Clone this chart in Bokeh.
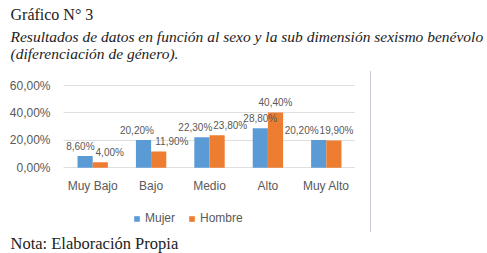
from bokeh.plotting import figure
from bokeh.models import ColumnDataSource, Legend, LegendItem, FactorRange, Range1d, Title, InlineStyleSheet
from bokeh.transform import dodge
from bokeh.core.properties import value
from bokeh.embed import file_html
from bokeh.resources import INLINE

# ---- data ----
categories = ["Muy Bajo", "Bajo", "Medio", "Alto", "Muy Alto"]
mujer = [8.6, 20.2, 22.3, 28.8, 20.2]
hombre = [4.0, 11.9, 23.8, 40.4, 19.9]
y_ticks = [0, 20, 40, 60]
y_tick_labels = ["0,00%", "20,00%", "40,00%", "60,00%"]
series_names = ["Mujer", "Hombre"]
title_text = "Gráfico N° 3"
subtitle_1 = "Resultados de datos en función al sexo y la sub dimensión sexismo benévolo"
subtitle_2 = "(diferenciación de género)."
note_text = "Nota: Elaboración Propia"


def fmt(v):
    return f"{v:.2f}".replace(".", ",") + "%"


BLUE = "#5B9BD5"
ORANGE = "#ED7D31"
GRAY = "#595959"
INK = "#222222"
SANS = "Liberation Sans"
SERIF = "Liberation Serif"

# ---- layout geometry (pixels) ----
FRAME_TOP, FRAME_BOTTOM = 84, 231
FRAME_W = 292.0
ZERO_PX, SIXTY_PX = 167.3, 85.0
PPU = (ZERO_PX - SIXTY_PX) / 60.0          # pixels per percentage unit
Y_START = -(FRAME_BOTTOM - ZERO_PX) / PPU
Y_END = (ZERO_PX - FRAME_TOP) / PPU
XAXIS_PX = 192.0
XAXIS_Y = -(XAXIS_PX - ZERO_PX) / PPU
CAT_PX = FRAME_W / len(categories)
BAR_W = 0.26
LABEL_FS = 10


# ---- data-label placement: push apart labels that would collide (like Excel) ----
def text_w(s):
    widths = {",": 0.278, "%": 0.889}
    return sum(widths.get(ch, 0.556) for ch in s) * LABEL_FS


m_off, h_off = [], []
for i, (vm, vh) in enumerate(zip(mujer, hombre)):
    lm, lh = fmt(vm), fmt(vh)
    half_bar = BAR_W / 2 * CAT_PX
    m_right = -half_bar + text_w(lm) / 2
    h_left = half_bar - text_w(lh) / 2
    overlap = m_right - h_left + 1
    mo, ho = 0.0, 0.0
    if abs(vm - vh) * PPU < 13 and overlap > 0:
        mo, ho = -overlap / 3.0, overlap * 2.0 / 3.0
    # keep the label inside the plotting frame
    h_right = (i + 0.5) * CAT_PX + half_bar + ho + text_w(lh) / 2
    excess = h_right - (FRAME_W - 2)
    if excess > 0:
        ho -= excess
        mo -= excess
    m_off.append(mo)
    h_off.append(ho)

src = ColumnDataSource(dict(
    cat=categories, mujer=mujer, hombre=hombre,
    ml=[fmt(v) for v in mujer], hl=[fmt(v) for v in hombre],
    mo=m_off, ho=h_off,
))

border_css = InlineStyleSheet(css="""
:host::after { content: ""; position: absolute; left: 370px; top: 71px;
  width: 1px; height: 161px; background: #cfc8d6; }
""")

p = figure(
    x_range=FactorRange(factors=categories), y_range=Range1d(Y_START, Y_END),
    width=487, height=253, output_backend="svg", toolbar_location=None,
    title_location=None,
    min_border_left=63, min_border_right=132, min_border_top=FRAME_TOP,
    min_border_bottom=253 - FRAME_BOTTOM,
    stylesheets=[border_css],
)
p.outline_line_color = None
p.background_fill_color = "white"

r1 = p.vbar(x=dodge("cat", -BAR_W / 2, range=p.x_range), top="mujer", width=BAR_W,
            source=src, fill_color=BLUE, line_color=None)
r2 = p.vbar(x=dodge("cat", BAR_W / 2, range=p.x_range), top="hombre", width=BAR_W,
            source=src, fill_color=ORANGE, line_color=None)

p.text(x=dodge("cat", -BAR_W / 2, range=p.x_range), y="mujer", text="ml", source=src,
       x_offset="mo", y_offset=-10, text_align="center", text_baseline="middle",
       text_font=value(SANS), text_font_size=f"{LABEL_FS}px", text_color=GRAY)
p.text(x=dodge("cat", BAR_W / 2, range=p.x_range), y="hombre", text="hl", source=src,
       x_offset="ho", y_offset=-10, text_align="center", text_baseline="middle",
       text_font=value(SANS), text_font_size=f"{LABEL_FS}px", text_color=GRAY)

# axes
p.yaxis.ticker = y_ticks
p.yaxis.major_label_overrides = {t: l for t, l in zip(y_ticks, y_tick_labels)}
for ax in (p.xaxis, p.yaxis):
    ax.axis_line_color = None
    ax.major_tick_line_color = None
    ax.minor_tick_line_color = None
    ax.major_tick_out = 0
    ax.major_tick_in = 0
    ax.major_label_text_font = SANS
    ax.major_label_text_font_size = "12px"
    ax.major_label_text_color = GRAY
p.yaxis.major_label_standoff = 13
p.xaxis.fixed_location = XAXIS_Y
p.xaxis.major_label_standoff = -14

p.xgrid.visible = False
p.ygrid.grid_line_color = "#bfbfbf"
p.ygrid.grid_line_dash = "1 1"

# legend inside the (extended) frame, below the category labels
legend = Legend(
    items=[LegendItem(label=series_names[0], renderers=[r1]),
           LegendItem(label=series_names[1], renderers=[r2])],
    location=(70, 6), orientation="horizontal",
    glyph_width=7, glyph_height=7, label_height=12, label_standoff=5, spacing=13,
    padding=0, margin=0, border_line_color=None, background_fill_alpha=0,
    label_text_font=SANS, label_text_font_size="12px", label_text_color=GRAY,
)
p.add_layout(legend)

# note below
p.add_layout(Title(text=note_text, align="left", offset=-53, standoff=0,
                   text_font=SERIF, text_font_size="16.5px", text_font_style="normal",
                   text_color=INK), "below")

# titles above (first added sits nearest the frame)
p.add_layout(Title(text=subtitle_1 + "\n" + subtitle_2, align="left", offset=-53,
                   standoff=45, text_line_height=1.0,
                   text_font=SERIF, text_font_size="15.5px", text_font_style="italic",
                   text_color=INK), "above")
p.add_layout(Title(text=title_text, align="left", offset=-53, standoff=-38,
                   text_font=SERIF, text_font_size="16px", text_font_style="normal",
                   text_color=INK), "above")

open("out.html", "w").write(file_html(p, INLINE))
